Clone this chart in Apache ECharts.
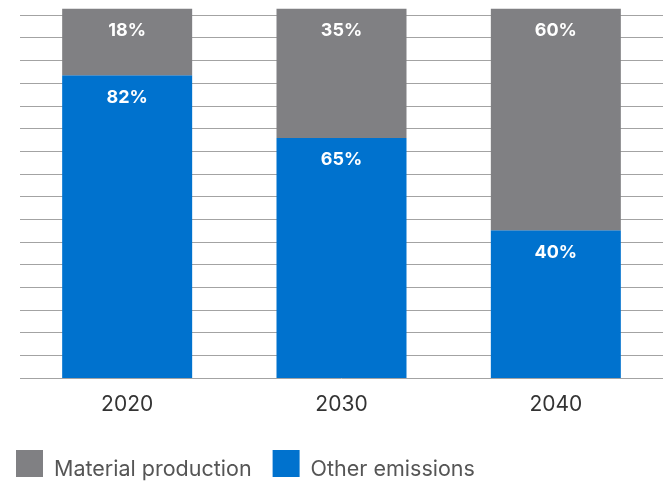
<!DOCTYPE html>
<html>
<head>
<meta charset="utf-8">
<script src="https://cdn.jsdelivr.net/npm/echarts@6/dist/echarts.min.js"></script>
<style>html,body{margin:0;padding:0;background:#fff}#c{width:663px;height:482px}</style>
</head>
<body>
<div id="c"></div>
<script>
var categories = ['2020', '2030', '2040'];
var otherEmissions = [82, 65, 40];
var materialProduction = [18, 35, 60];
var seriesNames = ['Material production', 'Other emissions'];

var FONT = 'Inter, "Noto Sans", sans-serif';
var chart = echarts.init(document.getElementById('c'), null, {renderer: 'canvas'});
var labelStyle = {
  show: true, position: 'insideTop', distance: 13,
  formatter: '{c}%', color: '#fff', fontWeight: 'bold', fontSize: 18, fontFamily: FONT
};
chart.setOption({
  animation: false,
  textStyle: {fontFamily: FONT},
  legend: {
    data: seriesNames,
    left: 16, top: 450, padding: 0,
    itemWidth: 27, itemHeight: 27, itemGap: 21,
    icon: 'rect',
    formatter: '{t|{name}}',
    textStyle: {
      fontSize: 21.5, color: '#555', fontFamily: FONT,
      rich: {t: {fontSize: 21.5, color: '#555', fontFamily: FONT, padding: [12, 0, 0, 6]}}
    }
  },
  grid: {left: 20, width: 646, top: 15, height: 363, containLabel: false},
  xAxis: {
    type: 'category', data: categories,
    axisLine: {show: false}, axisTick: {show: false},
    axisLabel: {fontSize: 21, color: '#333', margin: 16, fontFamily: FONT}
  },
  yAxis: {
    type: 'value', min: 0, max: 98.304, interval: 6.144,
    axisLabel: {show: false}, axisLine: {show: false}, axisTick: {show: false},
    splitLine: {show: true, lineStyle: {color: '#a3a3a3', width: 1}}
  },
  series: [
    {name: 'Other emissions', type: 'bar', stack: 'a', data: otherEmissions, barWidth: 130, clip: false,
     itemStyle: {color: '#0072CE'}, label: labelStyle},
    {name: 'Material production', type: 'bar', stack: 'a', data: materialProduction, barWidth: 130, clip: false,
     itemStyle: {color: '#808083'}, label: labelStyle}
  ]
});
</script>
</body>
</html>
